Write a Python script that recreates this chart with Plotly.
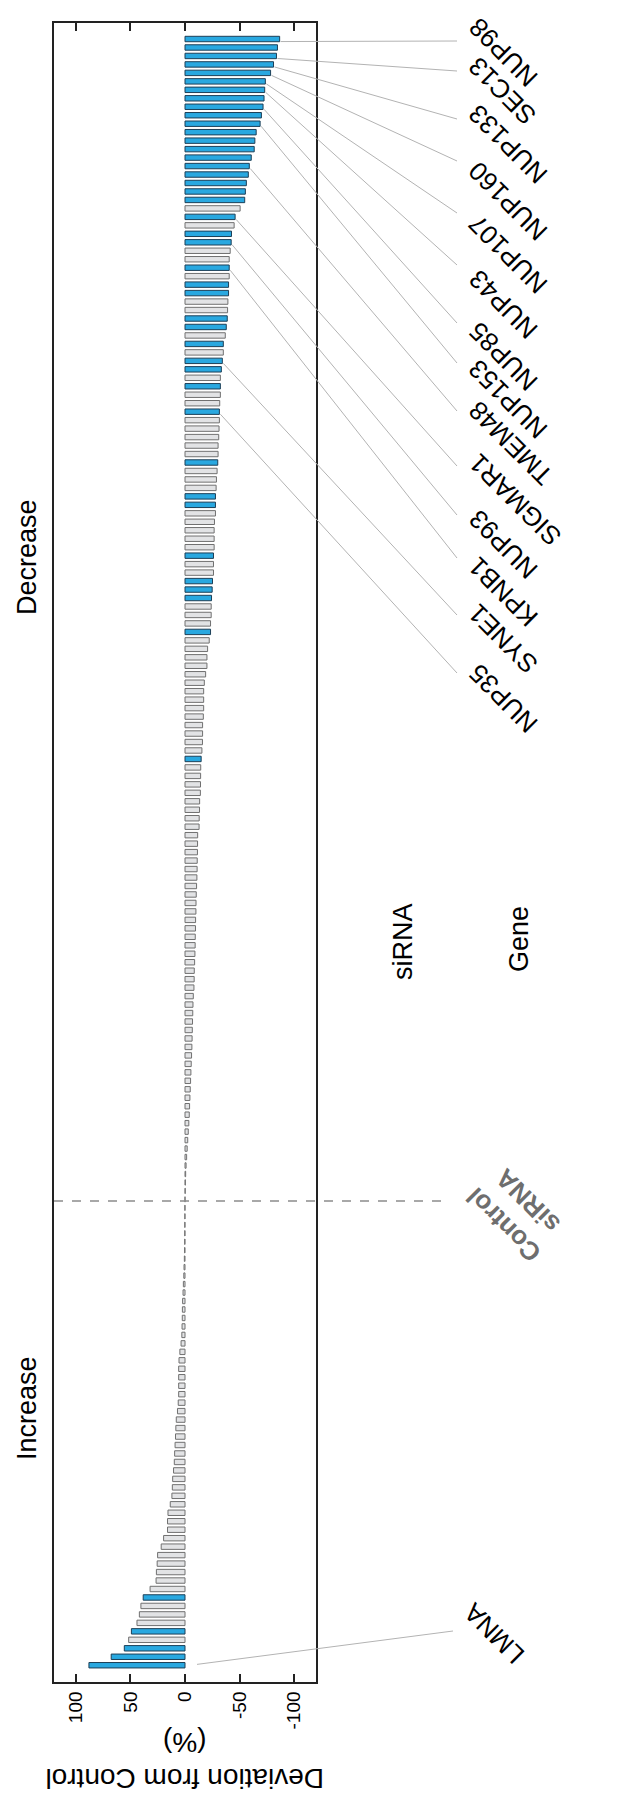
import plotly.graph_objects as go

# ---------------- data (top of chart -> bottom) ----------------
decrease_pct = [
    -86.7, -84.7, -83.8, -81.1, -78.4, -73.6, -73.0, -72.4, -71.5, -70.0,
    -68.8, -65.2, -64.0, -63.4, -60.7, -58.9, -58.0, -56.2, -55.3, -54.7,
    -50.5, -45.9, -45.0, -42.6, -42.3, -41.4, -40.5, -40.5, -40.5, -39.9,
    -39.9, -39.3, -39.0, -38.7, -37.8, -36.9, -35.1, -35.1, -34.2, -33.3,
    -32.4, -32.4, -32.4, -31.8, -31.5, -31.5, -31.2, -30.9, -30.3, -30.3,
    -30.0, -29.4, -28.8, -28.5, -27.9, -27.9, -27.9, -27.0, -26.7, -26.7,
    -26.7, -26.1, -26.1, -26.1, -25.2, -24.9, -24.3, -24.0, -24.0, -23.4,
    -23.4, -22.2, -20.7, -20.1, -20.1, -18.9, -17.7, -17.1, -17.1, -17.1,
    -16.8, -16.1, -16.1, -16.0, -15.5, -14.8, -14.4, -14.3, -14.2, -14.1,
    -13.4, -13.3, -13.0, -12.9, -11.6, -11.5, -11.4, -11.2, -11.1, -10.9,
    -10.6, -10.3, -10.1, -10.0, -9.7, -9.6, -9.4, -9.3, -9.1, -8.8,
    -8.5, -8.4, -8.2, -7.6, -7.3, -7.1, -6.9, -6.7, -6.5, -6.3,
    -6.0, -5.7, -5.4, -5.1, -4.8, -4.5, -4.2, -3.9, -3.5, -3.0,
    -2.5, -2.0, -1.5, -1.0, -0.6, -0.35, -0.2,
]
control_pct = [0.0]
increase_pct = [
    0.1, 0.15, 0.2, 0.25, 0.3, 0.4, 0.6, 0.9, 1.1, 1.5,
    1.8, 2.2, 2.4, 2.5, 2.7, 2.9, 3.6, 4.7, 5.5, 5.8,
    5.8, 5.8, 5.8, 6.2, 6.9, 8.0, 8.4, 8.7, 9.1, 9.5,
    9.8, 10.5, 11.3, 11.6, 12.0, 13.5, 15.6, 16.0, 16.0, 19.6,
    21.8, 25.1, 25.5, 26.2, 26.5, 32.0, 38.3, 40.4, 41.8, 44.0,
    49.1, 51.6, 55.6, 67.6, 88.0,
]
deviation = decrease_pct + control_pct + increase_pct
sirna_rank = list(range(len(deviation)))

# siRNAs drawn in blue (top -> bottom rank)
highlighted_idx = list(range(20)) + [21, 23, 24, 27, 29, 30, 33, 34, 36, 38, 39, 41, 44,
                                     50, 54, 55, 61, 64, 65, 66, 70, 85,
                                     184, 188, 190, 191, 192]
control_idx = len(decrease_pct)

gene_labels = ["NUP98", "SEC13", "NUP133", "NUP160", "NUP107", "NUP43", "NUP85",
               "NUP153", "TMEM48", "SIGMAR1", "NUP93", "KPNB1", "SYNE1", "NUP35", "LMNA"]
gene_bar_idx = [0, 2, 3, 4, 5, 6, 8, 10, 15, 21, 24, 27, 38, 44, 192]
# label layout (pixels): top of label box, end of leader line
label_top_px = [7, 50, 98, 155, 208, 263, 315, 353, 395, 447, 503, 550, 597, 657, 1595]
line_end_py = [33, 63, 111, 153, 205, 257, 315, 355, 403, 458, 507, 550, 607, 665, 1623]

# ---------------- geometry ----------------
W, H = 634, 1794
PL, PR, PT, PB = 46, 308, 15, 1674
N = len(deviation)
X_RANGE = [120, -120]
Y_RANGE = [N - 1 + 1.98, -1.89]

def xp_px(px):
    return (px - PL) / (PR - PL)

def yp_px(py):
    return (PB - py) / (PB - PT)

def xp_val(v):
    return (X_RANGE[0] - v) / (X_RANGE[0] - X_RANGE[1])

def yp_idx(i):
    return (Y_RANGE[0] - i) / (Y_RANGE[0] - Y_RANGE[1])

PX = 1.0 / (PR - PL)
BLUE = "#29A8E0"
BLUE_EDGE = "#1d3f57"
GRAY = "#E2E3E5"
GRAY_EDGE = "#707070"
FONT = "Liberation Sans, Arial, sans-serif"
LABEL_SHIFT_Y = -10   # glyphs sit inside a padded box

hl = set(highlighted_idx)
fill = [BLUE if i in hl else GRAY for i in sirna_rank]
edge = [BLUE_EDGE if i in hl else GRAY_EDGE for i in sirna_rank]

fig = go.Figure(go.Bar(
    x=deviation, y=sirna_rank, orientation="h", width=0.64,
    marker=dict(color=fill, line=dict(color=edge, width=1)),
    hoverinfo="x+y",
))

shapes = []
annotations = []
for name, bi, ty, ly in zip(gene_labels, gene_bar_idx, label_top_px, line_end_py):
    v = deviation[bi]
    if v < 0:
        x0 = xp_val(v) + PX
        y0 = yp_idx(bi + 0.3)
        x1 = xp_px(449)
        lx = xp_px(452)
        ty2 = max(ty + LABEL_SHIFT_Y, 1)
    else:
        x0 = xp_val(0) + 12 * PX
        y0 = yp_idx(bi - 0.1)
        x1 = xp_px(445)
        lx = xp_px(447)
        ty2 = ty - 9
    shapes.append(dict(type="line", xref="paper", yref="paper",
                       x0=x0, y0=y0, x1=x1, y1=yp_px(ly),
                       line=dict(color="#b3b3b3", width=1)))
    annotations.append(dict(text=name, xref="paper", yref="paper",
                            x=lx, y=yp_px(ty2), xanchor="left", yanchor="top",
                            textangle=-135, showarrow=False,
                            font=dict(size=26, color="black", family=FONT)))

# control siRNA marker
shapes.append(dict(type="line", xref="paper", yref="paper",
                   x0=0, x1=xp_px(436), y0=yp_idx(control_idx + 0.2), y1=yp_idx(control_idx + 0.2),
                   line=dict(color="#8c8c8c", width=1.5, dash="dash")))
annotations.append(dict(text="<b>Control<br>siRNA</b>", xref="paper", yref="paper",
                        x=xp_px(450), y=yp_px(1147), xanchor="left", yanchor="top",
                        textangle=-135, showarrow=False,
                        font=dict(size=26, color="#6e6e6e", family=FONT)))

for txt, cx, cy in [("Decrease", 19, 549), ("Increase", 19, 1400),
                    ("siRNA", 395, 934), ("Gene", 511, 931)]:
    annotations.append(dict(text=txt, xref="paper", yref="paper",
                            x=xp_px(cx), y=yp_px(cy), xanchor="center", yanchor="middle",
                            textangle=-90, showarrow=False,
                            font=dict(size=27, color="black", family=FONT)))

annotations.append(dict(text="Deviation from Control<br>(%)", xref="paper", yref="paper",
                        x=xp_val(0), y=yp_px(1753), xanchor="center", yanchor="middle",
                        textangle=180, showarrow=False,
                        font=dict(size=28, color="black", family=FONT)))

tick_vals = [100, 50, 0, -50, -100]
tick_text = ["100", "50", "0", "-50", "-100"]

fig.update_layout(
    width=W, height=H,
    margin=dict(l=PL, r=W - PR, t=PT, b=H - PB, pad=0),
    paper_bgcolor="white", plot_bgcolor="white",
    showlegend=False,
    font=dict(family=FONT, color="black"),
    shapes=shapes, annotations=annotations,
    xaxis=dict(range=X_RANGE, tickvals=tick_vals, ticktext=tick_text,
               ticks="inside", ticklen=8, tickwidth=1.5, tickcolor="#222",
               showline=True, linecolor="#222", linewidth=1.8, mirror="allticks",
               tickangle=-90, tickfont=dict(size=19, family=FONT),
               showgrid=False, zeroline=False),
    yaxis=dict(range=Y_RANGE, showticklabels=False, ticks="",
               showline=True, linecolor="#222", linewidth=1.8, mirror=True,
               showgrid=False, zeroline=False),
)

fig.write_html("out.html")
